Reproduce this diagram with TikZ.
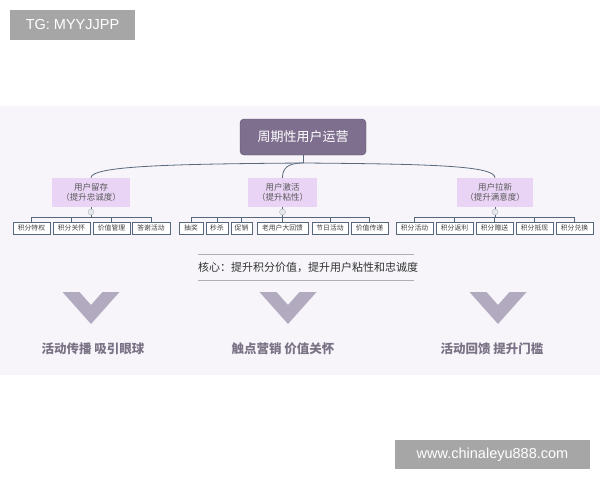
\documentclass[tikz,border=0pt]{standalone}
\usepackage{fontspec}
\setmainfont{Noto Sans CJK SC}
\newfontfamily\markfont{Liberation Sans}
\usetikzlibrary{positioning}
\definecolor{panelcolor}{RGB}{247,245,250}
\definecolor{rootcolor}{RGB}{126,111,143}
\definecolor{rootborder}{RGB}{88,78,102}
\definecolor{groupcolor}{RGB}{234,212,246}
\definecolor{linkcolor}{RGB}{88,104,124}
\definecolor{chevroncolor}{RGB}{178,170,190}
\definecolor{slogancolor}{RGB}{122,114,133}
\definecolor{markcolor}{RGB}{166,166,166}
\definecolor{rulecolor}{RGB}{175,175,175}

\begin{document}
\begin{tikzpicture}[
    x=1pt, y=-1pt,
    rootbox/.style={draw=rootborder, fill=rootcolor, rounded corners=4pt, minimum width=126pt, minimum height=36pt, text=white, font=\fontsize{13}{15}\selectfont},
    groupbox/.style={fill=groupcolor, minimum height=29pt, inner sep=1pt, align=center, text=black!65, font=\fontsize{8.5}{10}\selectfont},
    leafbox/.style={draw=linkcolor, fill=white, minimum height=12pt, inner sep=0pt, text=black!75, font=\fontsize{6.8}{7.5}\selectfont},
    toggle/.style={circle, draw=linkcolor!50, fill=linkcolor!15, minimum size=6pt, inner sep=0pt},
    link/.style={draw=linkcolor, line width=0.8pt},
    slogan/.style={font=\bfseries\fontsize{12.5}{14}\selectfont, text=slogancolor},
    markbox/.style={fill=markcolor, text=white, inner sep=0pt, font=\markfont\fontsize{14.5}{16}\selectfont},
]
    \useasboundingbox (0,0) rectangle (600,480);

    % Panel
    \fill[panelcolor] (0,106) rectangle (600,375);

    % Root and groups
    \node[rootbox] (root) at (303,137) {周期性用户运营};
    \coordinate (hub) at (303,163);

    \node[groupbox, minimum width=78pt] (keep) at (91,192.5) {用户留存\\（提升忠诚度）};
    \node[groupbox, minimum width=69pt] (wake) at (282.5,192.5) {用户激活\\（提升粘性）};
    \node[groupbox, minimum width=76pt] (grow) at (495,192.5) {用户拉新\\（提升满意度）};

    \draw[link] (root.south) -- (hub);
    \draw[link] (hub) .. controls +(-130,1) and +(0,-12) .. (keep.north);
    \draw[link] (hub) .. controls +(-16,0) and +(0,-9) .. (wake.north);
    \draw[link] (hub) .. controls +(130,1) and +(0,-12) .. (grow.north);

    % Toggles
    \node[toggle] (keeptog) at (91,212) {};
    \node[toggle] (waketog) at (282.5,212) {};
    \node[toggle] (growtog) at (495,212) {};
    \draw[link, line width=0.5pt] (keep.south) -- (keeptog.north);
    \draw[link, line width=0.5pt] (wake.south) -- (waketog.north);
    \draw[link, line width=0.5pt] (grow.south) -- (growtog.north);

    % Leaves
    \foreach \name/\x/\w/\txt in {k1/31.5/37/积分特权, k2/71.5/37/积分关怀, k3/111.5/37/价值管理, k4/151/38/答谢活动} {
        \node[leafbox, minimum width=\w pt] (\name) at (\x,228) {\txt};
        \draw[link, line width=0.6pt] (keeptog.south) -- ++(0,2) -| (\name.north);
    }
    \foreach \name/\x/\w/\txt in {w1/191/24/抽奖, w2/217/22/秒杀, w3/241.5/21/促销, w4/282.5/51/老用户大回馈, w5/330/36/节日活动, w6/369.5/37/价值传递} {
        \node[leafbox, minimum width=\w pt] (\name) at (\x,228) {\txt};
        \draw[link, line width=0.6pt] (waketog.south) -- ++(0,2) -| (\name.north);
    }
    \foreach \name/\x/\w/\txt in {g1/414.5/37/积分活动, g2/454.5/37/积分返利, g3/494.5/37/积分赠送, g4/534.5/37/积分抵现, g5/574.5/37/积分兑换} {
        \node[leafbox, minimum width=\w pt] (\name) at (\x,228) {\txt};
        \draw[link, line width=0.6pt] (growtog.south) -- ++(0,2) -| (\name.north);
    }

    % Core line
    \draw[rulecolor, line width=0.8pt] (198,254) -- (414,254);
    \node[font=\fontsize{11}{13}\selectfont, text=black!80] (core) at (308,267) {核心：提升积分价值，提升用户粘性和忠诚度};
    \draw[rulecolor, line width=0.8pt] (198,280) -- (414,280);

    % Chevrons
    \foreach \cx in {91,288,498}
        \fill[chevroncolor] (\cx-28.5,292) -- (\cx-11.5,292) -- (\cx,305) -- (\cx+11.5,292) -- (\cx+28.5,292) -- (\cx,324) -- cycle;

    \node[slogan] (spread) at (93,349) {活动传播 吸引眼球};
    \node[slogan] (touch) at (283,349) {触点营销 价值关怀};
    \node[slogan] (reward) at (492,349) {活动回馈 提升门槛};

    % Marks
    \node[markbox, minimum width=125pt, minimum height=30pt] (tag) at (72.5,25) {TG: MYYJJPP};
    \node[markbox, minimum width=195pt, minimum height=29pt] (site) at (492.5,454.5) {www.chinaleyu888.com};
\end{tikzpicture}
\end{document}
